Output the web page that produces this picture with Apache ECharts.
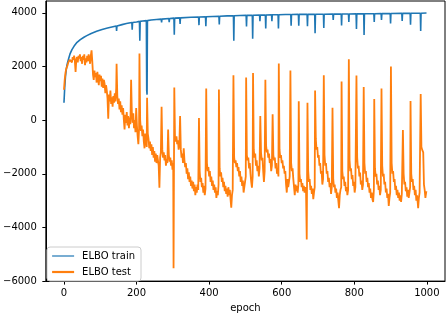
<!DOCTYPE html>
<html>
<head>
<meta charset="utf-8">
<script src="https://cdn.jsdelivr.net/npm/echarts@6/dist/echarts.min.js"></script>
<style>
html,body{margin:0;padding:0;background:#fff;}
#chart{width:446px;height:318px;}
</style>
</head>
<body>
<div id="chart"></div>
<script>
const seriesNames = ['ELBO train', 'ELBO test'];
const xTicks = [0, 200, 400, 600, 800, 1000];
const xTickLabels = ['0', '200', '400', '600', '800', '1000'];
const yTicks = [-6000, -4000, -2000, 0, 2000, 4000];
const yTickLabels = ['\u22126000', '\u22124000', '\u22122000', '0', '2000', '4000'];

const trainData = [
[0,650],[2,1200],[4,1600],[6,1850],[8,2030],[10,2150],[13,2300],[17,2480],[22,2630],[28,2760],[36,2900],[45,3000],[55,3090],[63,3150],[75,3230],[90,3310],[105,3380],[120,3430],[135,3480],
[144,3510],[145,3320],[146,3510],[160,3560],[172,3600],
[187,3640],[188,3370],[189,3640],[200,3660],
[208,3680],[209,2960],[210,3680],[217,3695],
[227,3710],[228,1100],[229,950],[230,3710],[240,3730],[255,3750],
[268,3765],[269,3640],[270,3765],
[289,3785],[290,3650],[291,3785],
[303,3800],[304,3180],[305,3800],
[319,3810],[320,3580],[321,3810],[350,3835],
[371,3845],[372,3540],[373,3845],
[390,3855],[391,3500],[392,3855],[410,3865],
[427,3870],[428,3570],[429,3870],[450,3885],
[467,3893],[468,2960],[469,3893],[485,3900],
[502,3905],[503,3490],[504,3905],
[519,3910],[520,3030],[521,3910],
[539,3915],[540,3690],[541,3915],
[555,3920],[556,3420],[557,3920],
[572,3925],[573,3690],[574,3925],
[590,3930],[591,3420],[592,3930],[610,3935],
[625,3937],[626,3520],[627,3937],
[646,3940],[647,3520],[648,3940],
[670,3942],[671,3500],[672,3942],
[691,3944],[692,3240],[693,3944],
[715,3946],[716,3430],[717,3946],
[741,3950],[742,3730],[743,3950],
[764,3953],[765,3530],[766,3953],
[784,3956],[785,3660],[786,3956],
[805,3960],[806,3400],[807,3960],
[826,3963],[827,3170],[828,3963],
[854,3967],[855,3660],[856,3967],
[874,3970],[875,3730],[876,3970],
[899,3973],[900,3600],[901,3973],
[931,3978],[932,3700],[933,3978],
[954,3982],[955,3560],[956,3982],[970,3984],
[982,3986],[983,3320],[984,3986],[999,3990]
];

const testData = [
[0,1130],[2,1500],[4,1750],[6,1900],[8,1950],[10,2050],[12,2150],[14,2200],[16,2250],[18,2200],
[20,2300],[22,2150],[24,2350],[26,2250],[28,2400],[30,2200],[32,1800],[34,2250],[36,2350],[38,2150],
[40,2400],[42,2300],[44,2450],[46,2200],[48,2350],[50,2100],[52,2400],[54,2250],[56,2450],[58,2050],
[60,2300],[62,2150],[64,2400],[66,2200],[68,2450],[70,2300],[72,2100],[74,2400],[76,2600],[78,2200],
[80,1700],[82,1500],[84,1850],[86,1600],[88,1750],[90,1400],[92,1800],[94,1550],[96,1300],[98,1700],
[100,1450],[102,1650],[104,1250],[106,1550],[108,1200],[110,1500],[112,1350],[114,1000],[116,1300],[118,1100],
[120,800],[122,50],[124,950],[126,700],[128,1100],[130,600],[132,850],[134,500],[136,900],[138,650],
[140,1000],[142,700],[144,1200],[145,2100],[147,900],[149,600],[151,800],[153,400],[155,700],[157,300],
[159,550],[161,200],[163,450],[165,0],[167,-350],[169,200],[171,-100],[173,300],[175,-200],[177,150],
[179,-300],[181,100],[183,-150],[185,1500],[187,300],[189,-100],[191,250],[193,-300],[195,0],[197,-450],
[199,450],[201,-200],[203,-600],[205,-900],[207,-300],[208,2480],[210,0],[212,-400],[214,-200],[216,-600],
[218,-350],[220,-800],[222,-1050],[224,-500],[226,-750],[228,-1000],[229,830],[231,-500],[233,-700],[235,-1050],
[237,-800],[239,-1150],[241,-900],[243,-1300],[245,-1000],[247,-1400],[249,-1150],[251,-1550],[253,-1250],[255,-1600],
[257,-1300],[259,-1500],[261,-1700],[263,-2520],[265,-1400],[267,-1200],[269,500],[271,-1100],[273,-1400],[275,-1200],
[277,-1500],[279,-1300],[281,-1700],[283,-1450],[285,-1600],[287,-350],[289,-1300],[291,-1550],[293,-1400],[295,-1700],
[297,-1500],[299,-1850],[301,-1600],[302,-5520],[304,1220],[306,-700],[308,-800],[310,-600],[312,-900],[314,-750],
[316,-1100],[318,-900],[320,150],[322,-1100],[324,-1400],[326,-1250],[328,-1600],[330,-1050],[332,-1500],[334,-1750],
[336,-1600],[338,-2000],[340,-1800],[342,-2200],[344,-1950],[346,-2300],[348,-2100],[350,-2450],[352,-2250],[354,-2550],
[356,-2300],[358,-2650],[360,-2400],[362,-2800],[364,-2500],[366,-2700],[368,-2400],[370,-2600],[372,80],[374,-1900],
[376,-2300],[378,-2150],[380,-2500],[382,-2350],[384,-2700],[386,-2450],[388,-2800],[390,-2550],[392,1180],[394,-1600],
[396,-1900],[398,-1750],[400,-2100],[402,-1900],[404,-2300],[406,-2100],[408,-2450],[410,-2250],[412,-2600],[414,-2400],
[416,-2700],[418,-2500],[420,-2900],[422,-2650],[424,-2800],[426,-2400],[427,1140],[429,-1800],[431,-2100],[433,-1950],
[435,-2300],[437,-2150],[439,-2500],[441,-2300],[443,-2650],[445,-2450],[447,-2750],[449,-2550],[451,-2850],[453,-2500],
[455,-2800],[457,-2600],[459,-2950],[461,-3260],[463,-2800],[465,-2600],[467,1670],[469,-1400],[471,-1600],[473,-1500],
[475,-1750],[477,-1600],[479,-1900],[481,-1750],[483,-2100],[485,-1900],[487,-2300],[489,-2100],[491,-2450],[493,-2250],
[495,-2700],[497,-2500],[499,-2300],[501,-2100],[502,1590],[504,-1300],[506,-1500],[508,-1400],[510,-1800],[512,-1600],
[514,-2000],[516,-2300],[518,-2520],[520,-2100],[521,1760],[523,-1100],[525,-1400],[527,-1250],[529,-1700],[531,-1500],
[533,-1900],[535,-1700],[537,-2100],[539,-1800],[541,150],[543,-1200],[545,-1500],[547,-1400],[549,-1900],[551,-2300],
[553,-1900],[555,1500],[557,-950],[559,-1200],[561,-1100],[563,-1400],[565,-1250],[567,-1600],[569,-1450],[571,-1900],
[573,-1700],[575,220],[577,-1300],[579,-1500],[581,-1400],[583,-1800],[585,-1600],[587,-2000],[589,-1800],[591,-2100],
[592,2110],[594,-1100],[596,-1400],[598,-1300],[600,-1600],[602,-1500],[604,-1800],[606,-1700],[608,-2000],[610,-1900],
[612,-2400],[614,-2700],[616,-2200],[618,-2500],[620,-2300],[622,-2100],[624,1850],[626,-1600],[628,-1900],[630,-1800],
[632,-2200],[634,-2500],[636,-2800],[638,-2400],[640,-2650],[642,-2450],[644,-2700],[646,-2400],[647,700],[649,-2000],
[651,-2300],[653,-2200],[655,-2500],[657,-2350],[659,-2650],[661,-2450],[663,-2700],[665,-2500],[667,-2600],[669,-4450],
[671,650],[673,-1900],[675,-2300],[677,-2200],[679,-2600],[681,-2450],[683,-2750],[685,-2550],[687,-2950],[689,-2700],
[691,-2500],[692,1100],[694,-700],[696,-1100],[698,-1000],[700,-1400],[702,-1300],[704,-1700],[706,-1600],[708,-2000],
[710,-1900],[712,-2400],[714,-2200],[716,1670],[718,-1300],[720,-1700],[722,-1600],[724,-2000],[726,-1900],[728,-2300],
[730,-2150],[732,-2500],[734,-2350],[736,-2750],[738,-2500],[740,460],[742,-2200],[744,-2500],[746,-2400],[748,-2700],
[750,-2550],[752,-2900],[754,-2700],[756,-3000],[758,-3280],[760,-2800],[762,-2600],[764,-2500],[765,1440],[767,-1900],
[769,-2200],[771,-2100],[773,-2450],[775,-2300],[777,-2650],[779,-2500],[781,-2800],[783,-2600],[785,2270],[787,-1500],
[789,-1900],[791,-1800],[793,-2200],[795,-2050],[797,-2450],[799,-2300],[801,-2700],[803,-2500],[806,1660],[808,-1400],
[810,-1800],[812,-1700],[814,-2100],[816,-1950],[818,-2400],[820,-2250],[822,-2600],[824,-2400],[826,1230],[828,-1600],
[830,-2000],[832,-1900],[834,-2300],[836,-2150],[838,-2500],[840,-2350],[842,-2700],[844,-2550],[846,-2900],[848,-2700],
[850,-2950],[852,-3050],[854,-2600],[855,790],[857,-1800],[859,-2100],[861,-2000],[863,-2400],[865,-2250],[867,-2600],
[869,-2450],[871,-2800],[873,-2600],[875,1180],[877,-1700],[879,-2100],[881,-2000],[883,-2400],[885,-2300],[887,-2700],
[889,-2550],[891,-2900],[893,-2750],[895,-3200],[897,-2900],[899,-2700],[901,2000],[903,-1600],[905,-2000],[907,-1900],
[909,-2300],[911,-2200],[913,-2600],[915,-2450],[917,-2800],[919,-2600],[921,-2900],[923,-2700],[925,-3000],[927,-2800],
[929,-3050],[931,-2750],[934,-370],[936,-2000],[938,-2400],[940,-2300],[942,-2650],[944,-2500],[946,-2850],[948,-2600],
[950,-2900],[952,-2700],[954,-2500],[955,710],[957,-2000],[959,-2300],[961,-2200],[963,-2600],[965,-2450],[967,-2800],
[969,-2600],[971,-3000],[973,-2800],[975,-3100],[976,-3280],[978,-2900],[980,-2700],[983,970],[985,-1000],[987,-1100],
[989,-1150],[990,-1200],[992,-2400],[994,-2600],[996,-2900],[998,-2700],[999,-2650]
];

const FONT = 'DejaVu Sans';
const chart = echarts.init(document.getElementById('chart'), null, {renderer: 'canvas'});
const option = {
  animation: false,
  backgroundColor: '#fff',
  grid: {left: 43, right: 1, top: 1, bottom: 31, show: true, borderColor: '#000', borderWidth: 1, backgroundColor: 'transparent'},
  xAxis: {
    type: 'value', min: -50, max: 1050,
    name: 'epoch', nameLocation: 'middle', nameGap: 21,
    nameTextStyle: {fontFamily: FONT, fontSize: 10, color: '#000'},
    axisLine: {show: true, onZero: false, lineStyle: {color: '#000', width: 1}},
    axisTick: {show: true, length: 3.5, customValues: xTicks, lineStyle: {color: '#000', width: 1}},
    axisLabel: {show: true, customValues: xTicks, margin: 7, fontFamily: FONT, fontSize: 10, color: '#000',
      formatter: function (v) { const i = xTicks.indexOf(v); return i >= 0 ? xTickLabels[i] : ''; }},
    splitLine: {show: false}
  },
  yAxis: {
    type: 'value', min: -6000, max: 4440,
    axisLine: {show: true, onZero: false, lineStyle: {color: '#000', width: 1}},
    axisTick: {show: true, length: 3.5, customValues: yTicks, lineStyle: {color: '#000', width: 1}},
    axisLabel: {show: true, customValues: yTicks, margin: 9, fontFamily: FONT, fontSize: 10, color: '#000',
      formatter: function (v) { const i = yTicks.indexOf(v); return i >= 0 ? yTickLabels[i] : ''; }},
    splitLine: {show: false}
  },
  legend: {
    orient: 'vertical', left: 47, top: 247,
    itemWidth: 22, itemHeight: 10, itemGap: 6,
    padding: [4, 6, 4, 4],
    borderColor: '#cccccc', borderWidth: 1, borderRadius: 3,
    backgroundColor: 'rgba(255,255,255,0.8)',
    itemStyle: {opacity: 0},
    textStyle: {fontFamily: FONT, fontSize: 10, color: '#000', padding: [0, 0, 0, 3]},
    data: [
      {name: seriesNames[0], lineStyle: {width: 1.2}},
      {name: seriesNames[1], lineStyle: {width: 2.2}}
    ]
  },
  series: [
    {name: seriesNames[0], type: 'line', data: trainData, symbol: 'none', showSymbol: false,
     lineStyle: {color: '#1f77b4', width: 1.6}, itemStyle: {color: '#1f77b4'}, clip: true, z: 2},
    {name: seriesNames[1], type: 'line', data: testData, symbol: 'none', showSymbol: false,
     lineStyle: {color: '#ff7f0e', width: 1.8}, itemStyle: {color: '#ff7f0e'}, clip: true, z: 3}
  ]
};
chart.setOption(option);
</script>
</body>
</html>
